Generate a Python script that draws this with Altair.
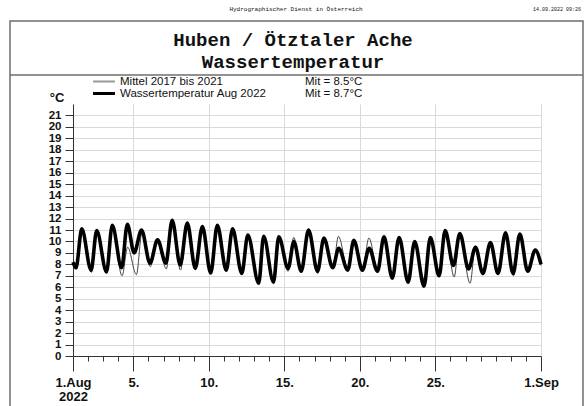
import altair as alt
import pandas as pd

# Day offsets are counted from 1 Aug 2022 00:00; values in °C.
# Water temperature August 2022: morning minima and afternoon maxima
low_time_2022 = [0.20, 1.20, 2.22, 3.22, 4.05, 5.10, 6.15, 7.10, 8.10, 9.12, 10.15,
                 11.18, 12.30, 13.28, 14.25, 15.12, 16.20, 17.20, 18.20, 19.17, 20.17,
                 21.15, 22.20, 23.25, 24.25, 25.20, 26.20, 27.15, 28.15, 29.15, 30.12]
low_2022 = [7.7, 7.5, 7.35, 7.7, 9.0, 8.1, 8.1, 7.95, 7.65, 7.25, 7.5,
            7.2, 6.35, 6.45, 7.65, 7.4, 7.4, 7.7, 7.5, 7.5, 7.4,
            6.8, 6.45, 6.1, 7.0, 7.9, 7.6, 7.2, 7.2, 7.2, 7.4]
high_time_2022 = [0.58, 1.57, 2.60, 3.60, 4.54, 5.60, 6.57, 7.57, 8.57, 9.56, 10.57,
                  11.58, 12.63, 13.63, 14.63, 15.60, 16.62, 17.60, 18.60, 19.62, 20.60,
                  21.60, 22.63, 23.67, 24.65, 25.62, 26.66, 27.65, 28.65, 29.60, 30.62]
high_2022 = [11.1, 10.95, 11.4, 11.5, 11.0, 10.15, 11.85, 11.6, 11.3, 11.4, 11.1,
             10.55, 10.45, 10.4, 10.0, 11.0, 10.3, 9.4, 10.1, 9.4, 10.4,
             10.35, 10.0, 10.35, 10.95, 10.7, 9.5, 9.9, 10.75, 10.65, 9.25]
ends_2022 = [(0.0, 8.2), (31.0, 8.0)]

# Mean of 2017 to 2021
low_time_mean = [0.22, 1.22, 2.24, 3.25, 4.20, 5.12, 6.18, 7.12, 8.12, 9.14, 10.17,
                 11.20, 12.30, 13.28, 14.25, 15.14, 16.22, 17.22, 18.22, 19.19, 20.19,
                 21.17, 22.22, 23.27, 24.27, 25.25, 26.30, 27.17, 28.17, 29.17, 30.14]
low_mean = [7.6, 7.3, 7.2, 7.0, 7.1, 7.8, 7.6, 7.5, 7.6, 7.3, 7.5,
            7.3, 6.5, 6.6, 7.4, 7.3, 7.2, 7.6, 7.5, 7.6, 7.5,
            6.9, 6.6, 6.65, 6.9, 6.9, 6.35, 7.1, 7.2, 7.0, 7.3]
high_time_mean = [0.58, 1.57, 2.60, 3.62, 4.56, 5.60, 6.57, 7.57, 8.57, 9.56, 10.57,
                  11.58, 12.63, 13.63, 14.62, 15.60, 16.62, 17.58, 18.60, 19.60, 20.60,
                  21.60, 22.63, 23.67, 24.65, 25.62, 26.66, 27.65, 28.65, 29.60, 30.62]
high_mean = [11.0, 10.9, 11.3, 9.5, 10.7, 10.1, 11.7, 11.5, 11.2, 11.3, 11.0,
             10.6, 10.4, 10.3, 10.35, 10.9, 10.2, 10.45, 10.0, 10.3, 10.3,
             10.3, 10.0, 10.3, 10.9, 10.6, 9.6, 9.8, 10.6, 10.6, 9.2]
ends_mean = [(0.0, 8.1), (31.0, 7.9)]

major_days = [0, 4, 9, 14, 19, 24, 31]


def series(low_t, low_v, high_t, high_v, ends):
    pts = list(zip(low_t, low_v)) + list(zip(high_t, high_v)) + ends
    pts.sort()
    return pd.DataFrame({"t": [p[0] for p in pts], "v": [p[1] for p in pts]})


df_2022 = series(low_time_2022, low_2022, high_time_2022, high_2022, ends_2022)
df_mean = series(low_time_mean, low_mean, high_time_mean, high_mean, ends_mean)

# plot area origin on the page
OX, OY = 73, 104
W, H = 468, 252

major_test = "indexof(" + str(major_days) + ", datum.value) >= 0"

x_enc = alt.X(
    "t:Q",
    scale=alt.Scale(domain=[0, 31], nice=False, zero=False),
    axis=alt.Axis(
        values=list(range(32)),
        title=None,
        grid=True,
        gridColor="#d9d9d9",
        gridWidth=1,
        gridOpacity={"condition": {"test": major_test, "value": 1}, "value": 0},
        tickSize={"condition": {"test": major_test, "value": 15}, "value": 5},
        tickColor="#333",
        domainColor="#333",
        labelExpr="datum.value == 0 ? ['1.Aug', '2022'] : datum.value == 31 ? '1.Sep' : "
        "(indexof(" + str(major_days) + ", datum.value) >= 0 ? (datum.value + 1) + '.' : '')",
        labelFont="Liberation Sans",
        labelFontSize=13,
        labelFontWeight="bold",
        labelColor="#111",
        labelPadding=5,
        labelLineHeight=14,
        labelFlush=False,
        labelOverlap=False,
        labelBound=False,
    ),
)
y_enc = alt.Y(
    "v:Q",
    scale=alt.Scale(domain=[0, 22], nice=False),
    axis=alt.Axis(
        values=list(range(22)),
        title=None,
        grid=True,
        gridColor="#d9d9d9",
        tickSize=8,
        tickColor="#333",
        domainColor="#333",
        labelFont="Liberation Sans",
        labelFontSize=11.5,
        labelFontWeight="bold",
        labelColor="#111",
        labelPadding=4,
        labelOverlap=False,
        labelBound=False,
        labelFlush=False,
    ),
)

mean_line = alt.Chart(df_mean).mark_line(
    color="#444", strokeWidth=1, interpolate="monotone"
).encode(x=x_enc, y=y_enc)
line_2022 = alt.Chart(df_2022).mark_line(
    color="#000", strokeWidth=3.6, interpolate="monotone"
).encode(x=x_enc, y=y_enc)

one = pd.DataFrame({"s": [""]})


def txt(s, x, y, size, font="Liberation Sans", weight="normal", align="left", color="#111"):
    return alt.Chart(pd.DataFrame({"s": [s]})).mark_text(
        align=align, baseline="middle", font=font, fontSize=size,
        fontWeight=weight, color=color,
    ).encode(x=alt.value(x - OX), y=alt.value(y - OY), text="s:N")


def hline(x1, x2, y, color, width):
    return alt.Chart(one).mark_rule(color=color, strokeWidth=width).encode(
        x=alt.value(x1 - OX), x2=alt.value(x2 - OX), y=alt.value(y - OY)
    )


frame = alt.Chart(one).mark_rect(
    fillOpacity=0, stroke="#6e6e6e", strokeWidth=1.5
).encode(
    x=alt.value(10 - OX), x2=alt.value(583 - OX),
    y=alt.value(21 - OY), y2=alt.value(420 - OY),
)

layers = [
    frame,
    hline(10, 583, 75, "#6e6e6e", 1.5),
    txt("Hydrographischer Dienst in Österreich", 296, 9, 6, font="Liberation Mono", align="center"),
    txt("14.09.2022 09:26", 581, 9, 5, font="Liberation Mono", align="right"),
    txt("Huben / Ötztaler Ache", 293, 40, 19, font="Liberation Mono", weight="bold", align="center"),
    txt("Wassertemperatur", 293, 62, 19, font="Liberation Mono", weight="bold", align="center"),
    hline(93, 115, 81.5, "#999", 2),
    hline(93, 115, 93.5, "#000", 3),
    txt("Mittel 2017 bis 2021", 120, 81.5, 11.5),
    txt("Wassertemperatur Aug 2022", 120, 93.5, 11.5),
    txt("Mit =  8.5°C", 305, 81.5, 11.5),
    txt("Mit =  8.7°C", 305, 93.5, 11.5),
    txt("°C", 57, 98, 13, weight="bold", align="center"),
    mean_line,
    line_2022,
]

chart = alt.layer(*layers).properties(
    width=W,
    height=H,
    autosize=alt.AutoSizeParams(type="none"),
    padding={"left": OX, "top": OY, "right": 586 - OX - W, "bottom": 406 - OY - H},
    background="white",
).configure_view(stroke=None)

chart.save("out.html", embed_options={"renderer": "svg", "actions": False})
